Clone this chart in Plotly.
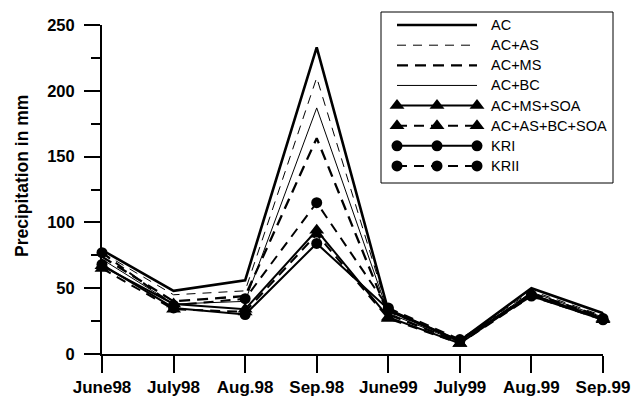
import plotly.graph_objects as go

# ---------------- data ----------------
months = ["June98", "July98", "Aug.98", "Sep.98", "June99", "July99", "Aug.99", "Sep.99"]

ac           = [79, 48, 56, 233, 33, 10, 50, 31]
ac_as        = [77, 45, 48, 210, 32, 10, 48, 29]
ac_ms        = [74, 40, 44, 164, 30, 9, 46, 28]
ac_bc        = [72, 38, 40, 187, 31, 9, 47, 28]
ac_ms_soa    = [67, 38, 34, 94, 28, 8, 45, 27]
ac_as_bc_soa = [65, 34, 32, 91, 27, 8, 44, 26]
kri          = [68, 35, 30, 84, 34, 10, 44, 26]
krii         = [77, 37, 42, 115, 35, 11, 45, 27]

series_names = ["AC", "AC+AS", "AC+MS", "AC+BC", "AC+MS+SOA", "AC+AS+BC+SOA", "KRI", "KRII"]
series_values = [ac, ac_as, ac_ms, ac_bc, ac_ms_soa, ac_as_bc_soa, kri, krii]

y_ticks = [0, 50, 100, 150, 200, 250]

# ---------------- styles ----------------
styles = [
    dict(width=2.6, dash="solid", symbol=None, msize=0),
    dict(width=1.0, dash="9px,7px", symbol=None, msize=0),
    dict(width=2.3, dash="11px,7px", symbol=None, msize=0),
    dict(width=1.0, dash="solid", symbol=None, msize=0),
    dict(width=2.0, dash="solid", symbol="triangle-up", msize=13),
    dict(width=2.0, dash="10px,7px", symbol="triangle-up", msize=13),
    dict(width=2.0, dash="solid", symbol="circle", msize=11),
    dict(width=2.0, dash="10px,7px", symbol="circle", msize=11),
]

W, H = 634, 399
def px_x(p):
    return p / W
def px_y(p):
    return 1 - p / H

fig = go.Figure()

x_idx = list(range(len(months)))
for name, vals, st in zip(series_names, series_values, styles):
    mode = "lines+markers" if st["symbol"] else "lines"
    tr = dict(
        x=x_idx, y=vals, mode=mode, name=name, showlegend=False,
        line=dict(color="black", width=st["width"], dash=st["dash"]),
        xaxis="x", yaxis="y", cliponaxis=False,
    )
    if st["symbol"]:
        tr["marker"] = dict(symbol=st["symbol"], size=st["msize"], color="black")
    fig.add_trace(go.Scatter(**tr))

# ---------------- custom legend (separate axes) ----------------
sample_x = [0, 1, 2]
for i, (name, st) in enumerate(zip(series_names, styles)):
    mode = "lines+markers" if st["symbol"] else "lines"
    tr = dict(
        x=sample_x, y=[i] * 3, mode=mode, showlegend=False, hoverinfo="skip",
        line=dict(color="black", width=st["width"], dash=st["dash"]),
        xaxis="x2", yaxis="y2", cliponaxis=False,
    )
    if st["symbol"]:
        tr["marker"] = dict(symbol=st["symbol"], size=st["msize"], color="black")
    fig.add_trace(go.Scatter(**tr))
    fig.add_annotation(
        x=2.3, y=i, xref="x2", yref="y2", text=name, showarrow=False,
        xanchor="left", yanchor="middle",
        font=dict(family="Liberation Sans, Arial", size=14.5, color="black"),
    )

fig.add_shape(
    type="rect", xref="paper", yref="paper",
    x0=px_x(381), x1=px_x(613), y0=px_y(183), y1=px_y(12),
    line=dict(color="black", width=1), fillcolor="rgba(0,0,0,0)",
)

# axis title as annotation
fig.add_annotation(
    x=px_x(22), y=px_y(176), xref="paper", yref="paper",
    text="<b>Precipitation in mm</b>", textangle=-90, showarrow=False,
    xanchor="center", yanchor="middle",
    font=dict(family="Liberation Sans, Arial", size=17.5, color="black"),
)

hidden_axis = dict(
    visible=True, showline=False, showgrid=False, zeroline=False,
    showticklabels=False, ticks="", fixedrange=True, automargin=False,
)

fig.update_layout(
    width=W, height=H,
    margin=dict(l=0, r=0, t=0, b=0, pad=0, autoexpand=False),
    paper_bgcolor="white", plot_bgcolor="rgba(0,0,0,0)",
    font=dict(family="Liberation Sans, Arial", color="black"),
    xaxis=dict(
        domain=[px_x(102), px_x(603)], range=[0, 7],
        tickmode="array", tickvals=x_idx, ticktext=["<b>%s</b>" % m for m in months],
        ticks="outside", ticklen=17, tickwidth=1.5, tickcolor="black",
        showline=True, linecolor="black", linewidth=2,
        showgrid=False, zeroline=False, automargin=False,
        tickfont=dict(size=17, family="Liberation Sans, Arial", color="black"),
        anchor="y",
    ),
    yaxis=dict(
        domain=[px_y(354), px_y(25)], range=[0, 250],
        tickmode="array", tickvals=y_ticks, ticktext=["<b>%d</b>" % v for v in y_ticks],
        ticks="outside", ticklen=16, tickwidth=1.5, tickcolor="black",
        minor=dict(dtick=25, ticks="outside", ticklen=9, tickwidth=1.5, tickcolor="black", showgrid=False),
        showline=True, linecolor="black", linewidth=2,
        showgrid=False, zeroline=False, automargin=False,
        ticklabelstandoff=6,
        tickfont=dict(size=16.5, family="Liberation Sans, Arial", color="black"),
        anchor="x",
    ),
    xaxis2=dict(domain=[px_x(387), px_x(613)], range=[-0.25, 5.4], anchor="y2", **hidden_axis),
    yaxis2=dict(domain=[px_y(176), px_y(15)], range=[7.5, -0.5], anchor="x2", **hidden_axis),
)

fig.write_html("out.html")
